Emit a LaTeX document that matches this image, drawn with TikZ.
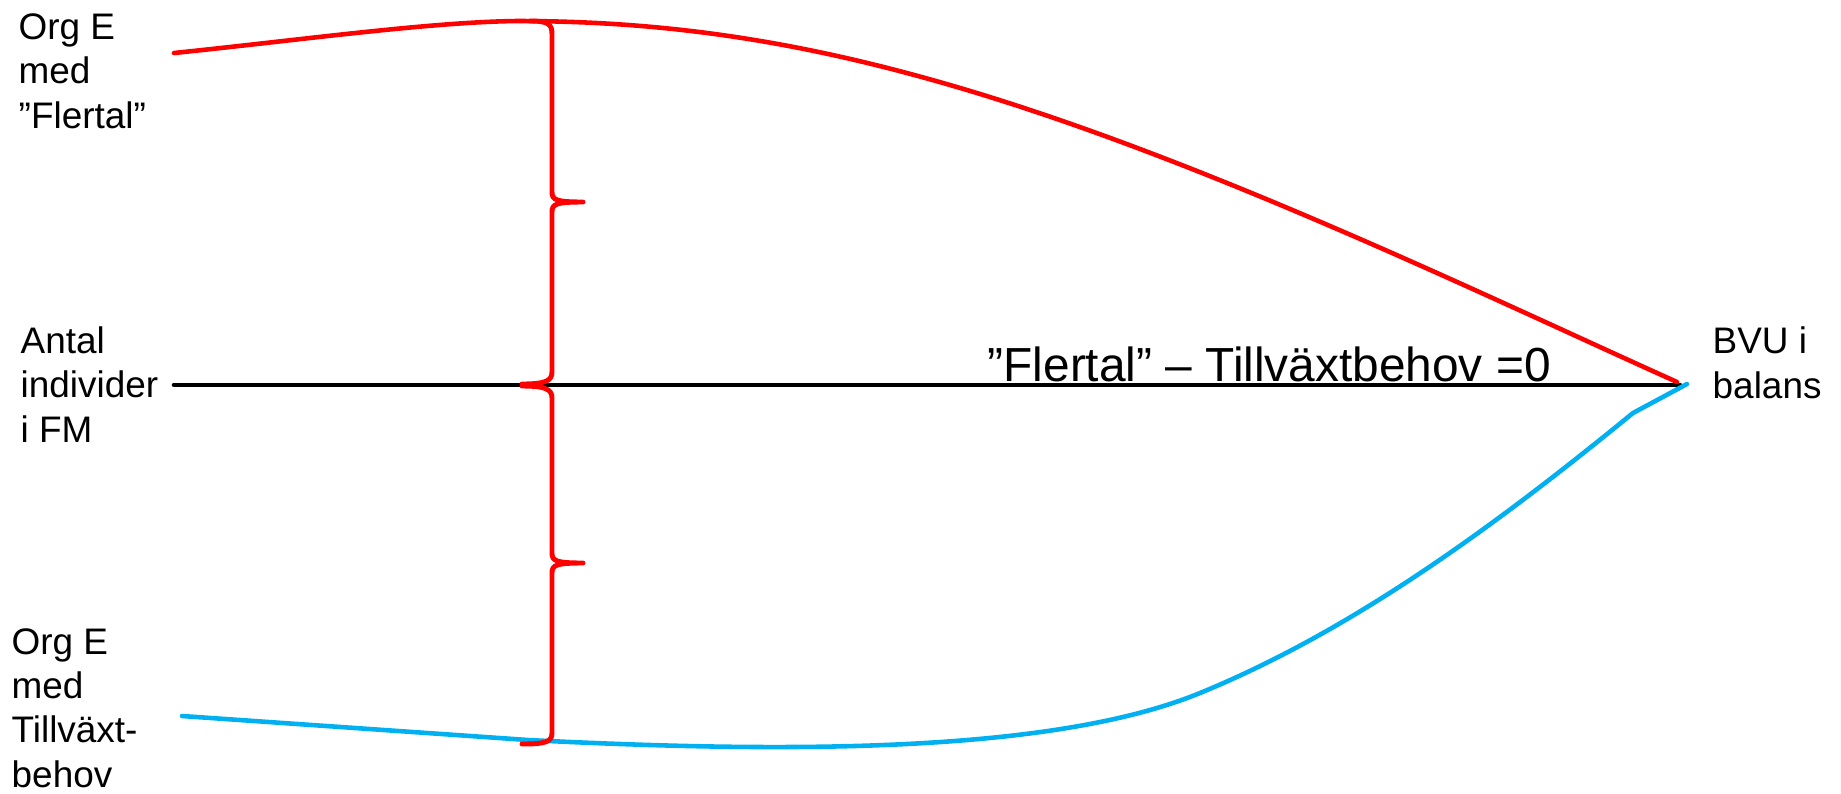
\documentclass[tikz,border=0pt]{standalone}
\usepackage{fontspec}
\setmainfont{Liberation Sans}

\definecolor{ljusbla}{RGB}{0,176,240}

\tikzset{
  etikett/.style={align=left, inner sep=0pt, anchor=base west,
    font=\fontsize{10.5pt}{12.6pt}\selectfont},
  kurva/.style={line width=1.3pt},
  klammer/.style={red, line width=1.4pt},
}

\begin{document}
\begin{tikzpicture}[x=0.01cm, y=-0.01cm, line cap=round, line join=round]
    \useasboundingbox (0,0) rectangle (1841,793);

    % Texterna till vänster och höger (placerade efter sista raden)
    \node[etikett] (flertal) at (18,128) {Org E\\med\\”Flertal”};
    \node[etikett] (antal) at (20,442) {Antal\\individer\\i FM};
    \node[etikett] (tillvaxt) at (11,787) {Org E\\med\\Tillväxt-\\behov};
    \node[etikett] (balans) at (1712,398) {BVU i\\balans};

    % Ändpunkter för den svarta linjen
    \coordinate (axstart) at (174,385);
    \coordinate (balanspunkt) at (1680,385);

    % Svart mittlinje med text ovanpå
    \draw[kurva, black] (axstart) -- (balanspunkt);
    \node[inner sep=0pt, anchor=base west, font=\fontsize{13.6pt}{16pt}\selectfont]
        (skillnad) at (987,381) {”Flertal” – Tillväxtbehov =0};

    % Röd kurva (flertal) ner mot balans
    \draw[kurva, red] (174,53) .. controls (300,40) and (430,22) .. (517,21)
        .. controls (667,21) and (800,41.5) .. (950,85)
        .. controls (1200,157.5) and (1477,292) .. (1677,382);

    % Blå kurva (tillväxtbehov) upp mot balans
    \draw[kurva, ljusbla] (182,716) -- (528,740)
        .. controls (778,752.5) and (1050,754.5) .. (1200,693)
        .. controls (1350,631.5) and (1490,530) .. (1633,413)
        -- (1687,384);

    % Klamrarna mellan kurvorna
    \draw[klammer] (530,21) .. controls (548,21) and (552,24) .. (552,34)
        -- (552,192) .. controls (552,200) and (556,202) .. (583,202)
        .. controls (556,202) and (552,204) .. (552,212)
        -- (552,372) .. controls (552,381) and (545,384) .. (522,384);
    \draw[klammer] (522,386) .. controls (545,386) and (552,389) .. (552,398)
        -- (552,553) .. controls (552,561) and (556,563) .. (583,563)
        .. controls (556,563) and (552,565) .. (552,573)
        -- (552,733) .. controls (552,742) and (545,744) .. (522,744);
\end{tikzpicture}
\end{document}
